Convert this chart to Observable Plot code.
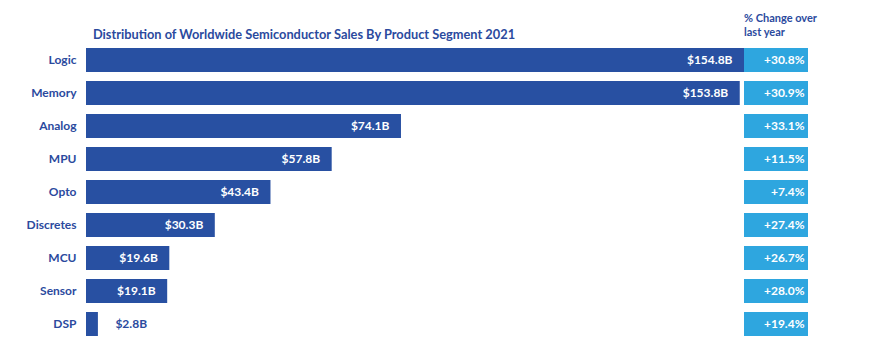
<!DOCTYPE html>
<html>
<head>
<meta charset="utf-8">
<script src="https://cdn.jsdelivr.net/npm/d3@7"></script>
<script src="https://cdn.jsdelivr.net/npm/@observablehq/plot@0.6"></script>
<style>
  html, body { margin: 0; padding: 0; background: #fff; }
  #wrap { position: relative; width: 889px; height: 354px; overflow: hidden; font-family: Lato, "Open Sans", sans-serif; }
  #main { position: absolute; left: 0; top: 0; }
  #pct { position: absolute; left: 744px; top: 0; }
  .title { position: absolute; left: 93px; top: 26px; font-weight: bold; font-size: 12.8px; color: #2B4A9E; white-space: nowrap; }
  .hdr { position: absolute; left: 744px; top: 11px; font-weight: bold; font-size: 11px; line-height: 14px; color: #2B4A9E; }
</style>
</head>
<body>
<div id="wrap">
  <div id="main"></div>
  <div id="pct"></div>
  <div class="title">Distribution of Worldwide Semiconductor Sales By Product Segment 2021</div>
  <div class="hdr">% Change over<br>last year</div>
</div>
<script>
const categories = ["Logic", "Memory", "Analog", "MPU", "Opto", "Discretes", "MCU", "Sensor", "DSP"];
const sales = [154.8, 153.8, 74.1, 57.8, 43.4, 30.3, 19.6, 19.1, 2.8];
const salesLabels = ["$154.8B", "$153.8B", "$74.1B", "$57.8B", "$43.4B", "$30.3B", "$19.6B", "$19.1B", "$2.8B"];
const changeLabels = ["+30.8%", "+30.9%", "+33.1%", "+11.5%", "+7.4%", "+27.4%", "+26.7%", "+28.0%", "+19.4%"];

const data = categories.map((c, i) => ({ cat: c, value: sales[i], label: salesLabels[i], change: changeLabels[i], col: "chg" }));

const darkBlue = "#2850A2";
const lightBlue = "#2EA6DF";
const textBlue = "#2B4A9E";
const font = "Lato, 'Open Sans', sans-serif";

const yScale = { domain: categories, padding: 0.27, label: null };

const main = Plot.plot({
  width: 744,
  height: 354,
  marginLeft: 86,
  marginRight: 0,
  marginTop: 39,
  marginBottom: 9,
  style: { fontFamily: font, background: "transparent", overflow: "visible" },
  x: { domain: [0, 154.8], axis: null },
  y: yScale,
  marks: [
    Plot.barX(data, { y: "cat", x: "value", fill: darkBlue }),
    Plot.axisY({ tickSize: 0, tickPadding: 10, fontSize: 12, fontWeight: "bold", color: textBlue, label: null }),
    Plot.text(data.filter(d => d.value >= 10), { y: "cat", x: "value", text: "label", textAnchor: "end", dx: -12, fill: "white", fontWeight: "bold", fontSize: 12 }),
    Plot.text(data.filter(d => d.value < 10), { y: "cat", x: "value", text: "label", textAnchor: "start", dx: 17, fill: textBlue, fontWeight: "bold", fontSize: 12 })
  ]
});
document.getElementById("main").appendChild(main);

const pct = Plot.plot({
  width: 145,
  height: 354,
  marginLeft: 0,
  marginRight: 81,
  marginTop: 39,
  marginBottom: 9,
  style: { fontFamily: font, background: "transparent" },
  x: { domain: ["chg"], padding: 0, axis: null },
  y: { ...yScale, axis: null },
  marks: [
    Plot.cell(data, { x: "col", y: "cat", fill: lightBlue }),
    Plot.text(data, { y: "cat", text: "change", frameAnchor: "right", textAnchor: "end", dx: -4, fill: "white", fontWeight: "bold", fontSize: 12 })
  ]
});
document.getElementById("pct").appendChild(pct);
</script>
</body>
</html>
